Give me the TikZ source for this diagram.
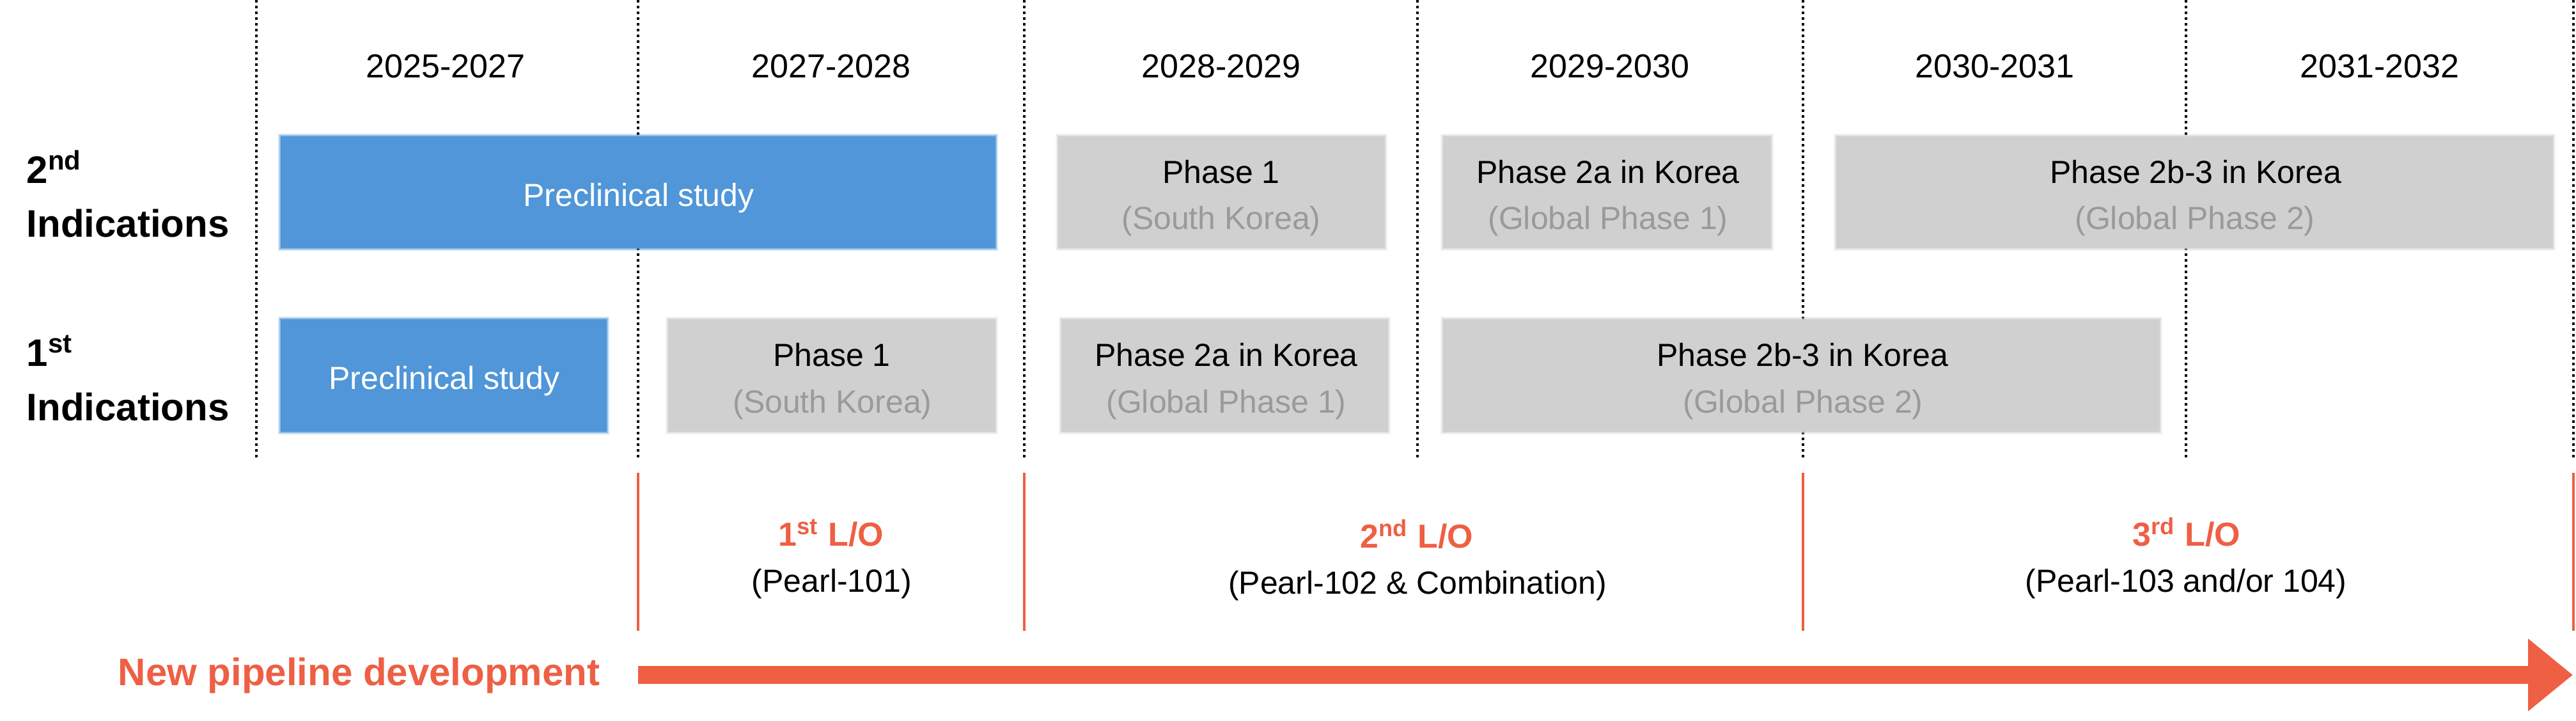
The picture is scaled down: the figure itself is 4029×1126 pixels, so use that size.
\documentclass[tikz,border=0pt]{standalone}
\usepackage{fontspec}
\setmainfont{Liberation Sans}
\usetikzlibrary{arrows.meta}
\definecolor{boxblue}{HTML}{5096D8}
\definecolor{boxgray}{HTML}{D0D0D0}
\definecolor{subgray}{HTML}{9A9A9A}
\definecolor{accent}{HTML}{EE5F44}
\begin{document}
\begin{tikzpicture}[x=0.25pt,y=-0.25pt,
  yr/.style={font=\fontsize{13}{15}\selectfont, anchor=base, inner sep=0},
  maintxt/.style={font=\fontsize{12.5}{15}\selectfont, anchor=base, inner sep=0},
  subtxt/.style={maintxt, text=subgray},
  whitetxt/.style={maintxt, text=white},
  rowlbl/.style={font=\fontsize{15}{18}\selectfont\bfseries, anchor=base west, inner sep=0},
  lotxt/.style={font=\fontsize{13}{15}\selectfont\bfseries, text=accent, anchor=base, inner sep=0},
  softbox/.style={rectangle, inner sep=0, outer sep=0, fill=#1,
     preaction={draw=#1, draw opacity=0.25, line width=2pt},
     preaction={draw=#1, draw opacity=0.5, line width=1pt}},
  bluebox/.style={softbox=boxblue},
  graybox/.style={softbox=boxgray},
  gridline/.style={line width=1.1pt, dash pattern=on 1pt off 1.25pt, black},
  loline/.style={line width=1.1pt, accent},
]
\useasboundingbox (0,0) rectangle (4029,1126);

% dotted column separators
\foreach \i/\x in {1/401,2/998,3/1602,4/2217,5/2820,6/3419,7/4025}{
  \coordinate (gt\i) at (\x,0);
  \coordinate (gb\i) at (\x,717);
  \draw[gridline] (gt\i) -- (gb\i);
}

% years
\node[yr] (y1) at (697,121) {2025-2027};
\node[yr] (y2) at (1300,121) {2027-2028};
\node[yr] (y3) at (1910,121) {2028-2029};
\node[yr] (y4) at (2518,121) {2029-2030};
\node[yr] (y5) at (3120,121) {2030-2031};
\node[yr] (y6) at (3722,121) {2031-2032};

% row labels
\node[rowlbl] (l2a) at (41,286) {2\textsuperscript{nd}};
\node[rowlbl] (l2b) at (41,370) {Indications};
\node[rowlbl] (l1a) at (41,572) {1\textsuperscript{st}};
\node[rowlbl] (l1b) at (41,657) {Indications};

% row 2 boxes
\node[bluebox, minimum width=279.5pt, minimum height=43.75pt] (p2) at (998,300.5) {};
\node[graybox, minimum width=127.75pt, minimum height=43.75pt] (a2) at (1910.5,300.5) {};
\node[graybox, minimum width=128.25pt, minimum height=43.75pt] (b2) at (2513.5,300.5) {};
\node[graybox, minimum width=280.25pt, minimum height=43.75pt] (c2) at (3432.5,300.5) {};

% row 1 boxes
\node[bluebox, minimum width=127.5pt, minimum height=44pt] (p1) at (694,587) {};
\node[graybox, minimum width=128pt, minimum height=44pt] (a1) at (1301,587) {};
\node[graybox, minimum width=127.75pt, minimum height=44pt] (b1) at (1915.5,587) {};
\node[graybox, minimum width=280.25pt, minimum height=44pt] (c1) at (2817.5,587) {};

% row 2 texts
\node[whitetxt] (p2t) at (999,322) {Preclinical study};
\node[maintxt] (a2t) at (1910,286) {Phase 1};
\node[subtxt] (a2s) at (1910,358) {(South Korea)};
\node[maintxt] (b2t) at (2515,286) {Phase 2a in Korea};
\node[subtxt] (b2s) at (2515,358) {(Global Phase 1)};
\node[maintxt] (c2t) at (3434,286) {Phase 2b-3 in Korea};
\node[subtxt] (c2s) at (3433,358) {(Global Phase 2)};

% row 1 texts
\node[whitetxt] (p1t) at (695,608) {Preclinical study};
\node[maintxt] (a1t) at (1301,572) {Phase 1};
\node[subtxt] (a1s) at (1302,645) {(South Korea)};
\node[maintxt] (b1t) at (1918,572) {Phase 2a in Korea};
\node[subtxt] (b1s) at (1918,645) {(Global Phase 1)};
\node[maintxt] (c1t) at (2819,572) {Phase 2b-3 in Korea};
\node[subtxt] (c1s) at (2820,645) {(Global Phase 2)};

% L/O separators
\foreach \i/\x in {1/998,2/1602,3/2820,4/4025}{
  \coordinate (lt\i) at (\x,739);
  \coordinate (lb\i) at (\x,986);
  \draw[loline] (lt\i) -- (lb\i);
}

% L/O labels
\node[lotxt] (lo1) at (1300,853) {1\textsuperscript{st} L/O};
\node[maintxt] (lo1p) at (1301,925) {(Pearl-101)};
\node[lotxt] (lo2) at (2216,856) {2\textsuperscript{nd} L/O};
\node[maintxt] (lo2p) at (2217,928) {(Pearl-102 \& Combination)};
\node[lotxt] (lo3) at (3420,853) {3\textsuperscript{rd} L/O};
\node[maintxt] (lo3p) at (3419,925) {(Pearl-103 and/or 104)};

% pipeline arrow
\node[font=\fontsize{15}{18}\selectfont\bfseries, text=accent, anchor=base west, inner sep=0] (npd) at (184,1071) {New pipeline development};
\coordinate (arS) at (998,1055);
\coordinate (arE) at (4024,1055);
\draw[accent, line width=7pt, -{Triangle[length=17.5pt, width=27.25pt]}] (arS) -- (arE);
\end{tikzpicture}
\end{document}
